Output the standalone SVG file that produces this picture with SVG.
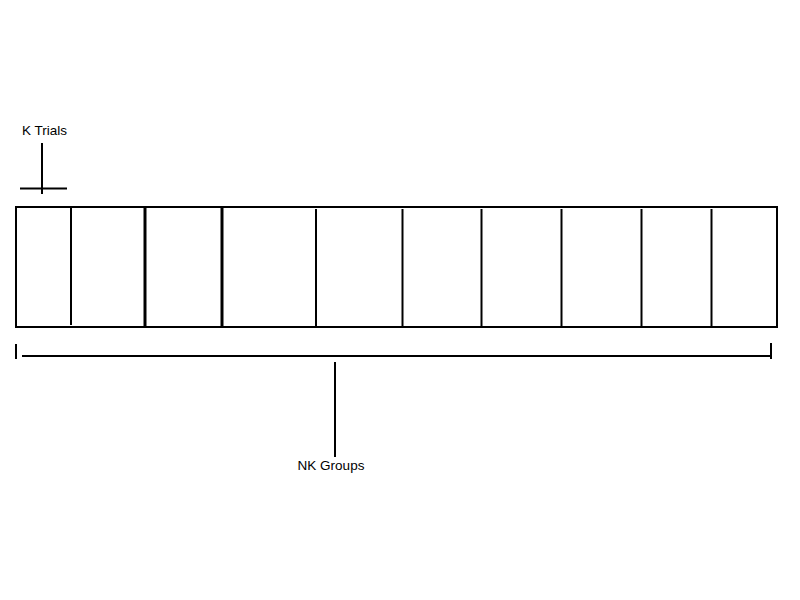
<svg xmlns="http://www.w3.org/2000/svg" width="800" height="600" viewBox="0 0 800 600">
<style>
.ln{stroke:#000;stroke-width:2;fill:none}
.thk{stroke:#000;stroke-width:3;fill:none}
.lbl{font-family:"Liberation Sans",Arial,sans-serif;font-size:13.5px;fill:#000}
</style>
<rect width="800" height="600" fill="#fff"/>
<g id="trials-row">
<rect x="16" y="207" width="761" height="120" class="ln"/>
<line x1="71" y1="207" x2="71" y2="325" class="ln"/>
<line x1="145" y1="207" x2="145" y2="327" class="thk"/>
<line x1="222" y1="207" x2="222" y2="327" class="thk"/>
<line x1="316" y1="209" x2="316" y2="327" class="ln"/>
<line x1="402.5" y1="209" x2="402.5" y2="327" class="ln"/>
<line x1="481.5" y1="209" x2="481.5" y2="327" class="ln"/>
<line x1="561.5" y1="209" x2="561.5" y2="327" class="ln"/>
<line x1="641.5" y1="209" x2="641.5" y2="327" class="ln"/>
<line x1="711.5" y1="209" x2="711.5" y2="327" class="ln"/>
</g>
<g id="k-trials">
<text x="22" y="135" class="lbl">K Trials</text>
</g>
<g id="nk-groups">
<text x="331" y="470" class="lbl" text-anchor="middle">NK Groups</text>
</g>
<g id="connectors">
<line x1="42" y1="143" x2="42" y2="194" class="ln"/>
<line x1="20" y1="188.5" x2="67" y2="188.5" class="ln"/>
<line x1="16" y1="344" x2="16" y2="359" class="ln"/>
<line x1="22" y1="356" x2="771" y2="356" class="ln"/>
<line x1="771" y1="343" x2="771" y2="359" class="ln"/>
<line x1="335" y1="362" x2="335" y2="457" class="ln"/>
</g>
</svg>
